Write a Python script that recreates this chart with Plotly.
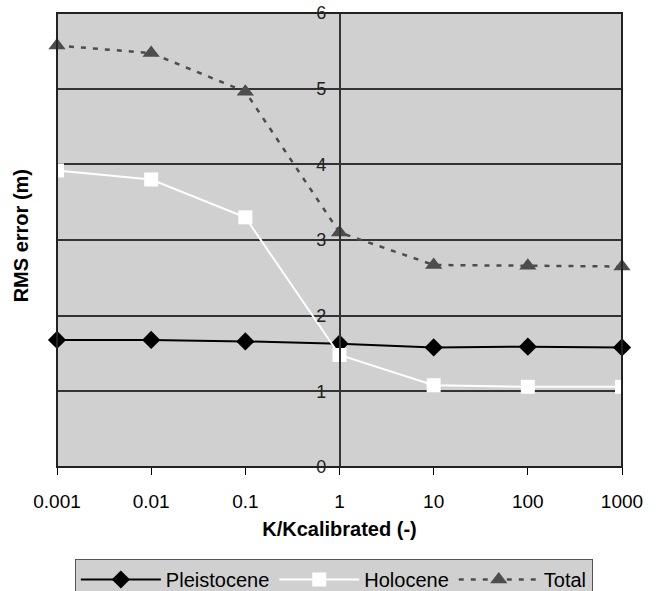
import plotly.graph_objects as go

x_vals = [0.001, 0.01, 0.1, 1, 10, 100, 1000]
x_labels = ["0.001", "0.01", "0.1", "1", "10", "100", "1000"]
pleistocene = [1.68, 1.68, 1.66, 1.63, 1.58, 1.59, 1.58]
holocene = [3.92, 3.80, 3.30, 1.48, 1.08, 1.06, 1.06]
total = [5.57, 5.47, 4.96, 3.10, 2.67, 2.66, 2.65]
y_ticks = [0, 1, 2, 3, 4, 5, 6]

fig = go.Figure()
fig.add_trace(go.Scatter(x=x_vals, y=pleistocene, name="Pleistocene", mode="lines+markers",
                         line=dict(color="#000000", width=2),
                         marker=dict(symbol="diamond", size=14, color="#000000"),
                         cliponaxis=False))
fig.add_trace(go.Scatter(x=x_vals, y=holocene, name="Holocene", mode="lines+markers",
                         line=dict(color="#ffffff", width=2),
                         marker=dict(symbol="square", size=14, color="#ffffff"),
                         cliponaxis=False))
fig.add_trace(go.Scatter(x=x_vals, y=total, name="Total", mode="lines+markers",
                         line=dict(color="#4d4d4d", width=2.5, dash="5px,7px"),
                         marker=dict(symbol="triangle-up", size=15, color="#4d4d4d"),
                         cliponaxis=False))

fig.update_layout(
    width=657, height=591,
    margin=dict(l=57, r=35, t=13, b=124, autoexpand=False),
    paper_bgcolor="#ffffff",
    plot_bgcolor="#d0d0d0",
    font=dict(family="Liberation Sans, Arial, sans-serif", size=19, color="#000000"),
    showlegend=True,
    legend=dict(orientation="h", x=0.49, xanchor="center", y=-0.2026, yanchor="top",
                bgcolor="#d0d0d0", bordercolor="#555555", borderwidth=1,
                font=dict(size=20), itemwidth=80, tracegroupgap=0),
    xaxis=dict(type="log", range=[-3, 3], tickvals=x_vals, ticktext=x_labels,
               showgrid=False, zeroline=False, ticks="outside", ticklen=7,
               tickcolor="#000000", tickwidth=1, ticklabelstandoff=10,
               showline=False, automargin=False, ticklabeloverflow="allow",
               tickfont=dict(size=19),
               title=dict(text="<b>K/Kcalibrated (-)</b>", standoff=11, font=dict(size=20))),
    yaxis=dict(range=[0, 6], tickvals=y_ticks, anchor="free", position=0.5,
               showgrid=True, gridcolor="#333333", gridwidth=1.5,
               showline=True, linecolor="#333333", linewidth=1.5,
               zeroline=False, ticks="", tickfont=dict(size=18, color="#222222"),
               ticklabelstandoff=9, automargin=False, ticklabeloverflow="allow"),
)

fig.add_shape(type="rect", xref="paper", yref="paper", x0=0, x1=1, y0=0, y1=1,
              line=dict(color="#222222", width=2), layer="above")
fig.add_annotation(text="<b>RMS error (m)</b>", xref="paper", yref="paper",
                   x=-0.063, y=0.509, textangle=-90, showarrow=False,
                   xanchor="center", yanchor="middle", font=dict(size=20))

fig.write_html("out.html", config={"displayModeBar": False},
               post_script="document.body.style.margin='0';document.body.style.padding='0';")
